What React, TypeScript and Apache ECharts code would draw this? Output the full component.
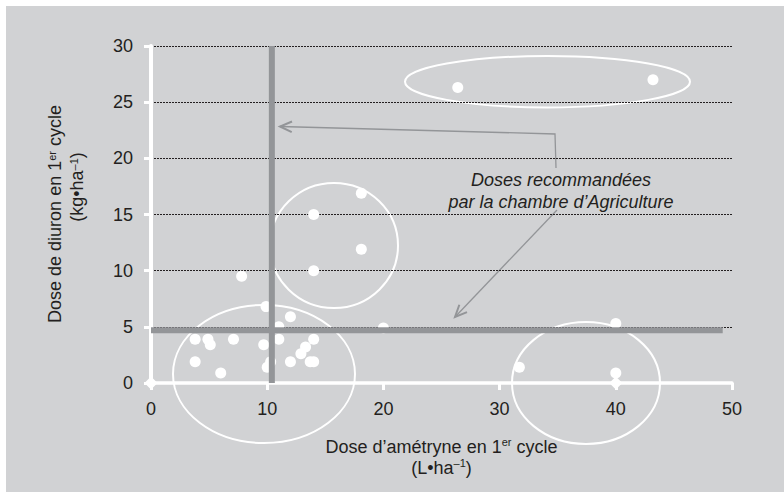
import React, { useEffect, useRef } from "react";
import * as echarts from "echarts";

// Doses per field (x: amétryne L/ha, y: diuron kg/ha)
const doseAmetryne = [3.8, 4.9, 5.1, 7.1, 9.7, 11.0, 12.0, 11.0, 9.9, 14.0, 13.3, 12.9, 13.7, 14.0, 12.0, 10.3, 10.0, 3.8, 6.0, 7.8, 14.0, 18.1, 18.1, 14.0, 20.0, 31.7, 40.0, 40.0, 26.4, 43.2];
const doseDiuron = [3.9, 3.9, 3.4, 3.9, 3.4, 3.9, 5.9, 5.0, 6.8, 3.9, 3.2, 2.6, 1.9, 1.9, 1.9, 1.9, 1.4, 1.9, 0.9, 9.5, 15.0, 16.9, 11.9, 10.0, 4.9, 1.4, 5.3, 0.9, 26.3, 27.0];
// Fields with no diuron (drawn on the axis)
const zeroAmetryne = [0, 40];
const zeroDiuron = [0, 0];
// Recommended doses (chambre d'Agriculture)
const recommendedAmetryne = 10.4;
const recommendedDiuron = 4.7;
const xTicks = [0, 10, 20, 30, 40, 50];
const yTicks = [0, 5, 10, 15, 20, 25, 30];

const FONT = '"Liberation Sans", Arial, sans-serif';
const TEXT = "#231f20";
const GRAY = "#939598";

function arrowHead(tip: number[], from: number[], len: number, ang: number) {
  const dx = from[0] - tip[0];
  const dy = from[1] - tip[1];
  const d = Math.hypot(dx, dy);
  const ux = dx / d;
  const uy = dy / d;
  const rot = (a: number) => [
    tip[0] + len * (ux * Math.cos(a) - uy * Math.sin(a)),
    tip[1] + len * (ux * Math.sin(a) + uy * Math.cos(a)),
  ];
  return [rot(ang), tip, rot(-ang)];
}

export default function App() {
  const ref = useRef<HTMLDivElement>(null);
  useEffect(() => {
    if (!ref.current) return;
    const chart = echarts.init(ref.current, undefined, { renderer: "svg" });
    const pts = doseAmetryne.map((x, i) => [x, doseDiuron[i]]);
    const zeros = zeroAmetryne.map((x, i) => [x, zeroDiuron[i]]);
    const supRich = { sup: { fontSize: 11, verticalAlign: "top", lineHeight: 13, fontFamily: FONT, color: TEXT, fill: TEXT } };

    const a1Tip = [280, 126.5];
    const a1Corner = [555, 134];
    const a2Tip = [455, 317];
    const a2From = [557, 210];

    chart.setOption({
      animation: false,
      grid: { left: 151, top: 46, right: 52, bottom: 109, containLabel: false },
      xAxis: {
        type: "value",
        min: 0,
        max: 50,
        interval: 10,
        axisLine: { show: true, onZero: false, lineStyle: { color: "#ffffff", width: 3.5 } },
        axisTick: { show: true, length: 7, lineStyle: { color: "#ffffff", width: 3 } },
        axisLabel: {
          margin: 17,
          fontSize: 18,
          fontFamily: FONT,
          color: TEXT,
          formatter: (v: number) => (xTicks.includes(v) ? String(v) : ""),
        },
        splitLine: { show: false },
        name: "Dose d\u2019amétryne en 1{sup|er} cycle\n(L•ha{sup|–1})",
        nameLocation: "middle",
        nameGap: 53,
        nameTextStyle: { fontSize: 18, fontFamily: FONT, color: TEXT, lineHeight: 21, rich: supRich },
      },
      yAxis: {
        type: "value",
        min: 0,
        max: 30,
        interval: 5,
        axisLine: { show: true, onZero: false, lineStyle: { color: "#ffffff", width: 4 } },
        axisTick: { show: true, length: 7, lineStyle: { color: "#ffffff", width: 3 } },
        axisLabel: {
          margin: 18,
          fontSize: 18,
          fontFamily: FONT,
          color: TEXT,
          formatter: (v: number) => (yTicks.includes(v) ? String(v) : ""),
        },
        splitLine: { show: true, lineStyle: { color: TEXT, width: 1, type: [2, 1] } },
      },
      series: [
        {
          type: "scatter",
          data: pts,
          symbol: "circle",
          symbolSize: 11,
          itemStyle: { color: "#ffffff", opacity: 1 },
          z: 2,
        },
        {
          type: "scatter",
          data: zeros,
          symbol: "diamond",
          symbolSize: 13,
          itemStyle: { color: "#ffffff", opacity: 1 },
          z: 2,
        },
        {
          type: "line",
          data: [
            [recommendedAmetryne, 0],
            [recommendedAmetryne, 30],
          ],
          showSymbol: false,
          symbol: "none",
          lineStyle: { color: GRAY, width: 6 },
          z: 3,
        },
        {
          type: "line",
          data: [
            [0, recommendedDiuron],
            [49.2, recommendedDiuron],
          ],
          showSymbol: false,
          symbol: "none",
          lineStyle: { color: GRAY, width: 6 },
          z: 3,
        },
      ],
      graphic: [
        // group ellipses
        { type: "ellipse", shape: { cx: 547.5, cy: 81.7, rx: 142.5, ry: 25.7 }, style: { fill: "none", stroke: "#ffffff", lineWidth: 2 } },
        { type: "ellipse", shape: { cx: 334, cy: 245.5, rx: 64, ry: 62.5 }, style: { fill: "none", stroke: "#ffffff", lineWidth: 2 } },
        { type: "ellipse", shape: { cx: 264, cy: 374, rx: 91, ry: 69 }, style: { fill: "none", stroke: "#ffffff", lineWidth: 2 } },
        { type: "ellipse", shape: { cx: 586, cy: 383, rx: 74, ry: 61 }, style: { fill: "none", stroke: "#ffffff", lineWidth: 2 } },
        // arrows
        { type: "polyline", shape: { points: [[556, 168], a1Corner, a1Tip] }, style: { fill: "none", stroke: GRAY, lineWidth: 1.3 } },
        { type: "polyline", shape: { points: arrowHead(a1Tip, a1Corner, 13, 0.42) }, style: { fill: "none", stroke: GRAY, lineWidth: 2 } },
        { type: "polyline", shape: { points: [a2From, a2Tip] }, style: { fill: "none", stroke: GRAY, lineWidth: 1.3 } },
        { type: "polyline", shape: { points: arrowHead(a2Tip, a2From, 13, 0.42) }, style: { fill: "none", stroke: GRAY, lineWidth: 2 } },
        // annotation
        {
          type: "text",
          x: 561,
          y: 191,
          style: {
            text: "Doses recommandées\npar la chambre d\u2019Agriculture",
            fontSize: 18,
            fontStyle: "italic",
            fontFamily: FONT,
            lineHeight: 21.5,
            fill: TEXT,
            align: "center",
            verticalAlign: "middle",
            textAlign: "center",
            textVerticalAlign: "middle",
          },
        },
        // y-axis title
        {
          type: "text",
          x: 55,
          y: 214,
          rotation: Math.PI / 2,
          style: {
            text: "Dose de diuron en 1{sup|er} cycle",
            fontSize: 18,
            fontFamily: FONT,
            fill: TEXT,
            align: "center",
            verticalAlign: "middle",
            textAlign: "center",
            textVerticalAlign: "middle",
            rich: supRich,
          },
        },
        {
          type: "text",
          x: 77,
          y: 187,
          rotation: Math.PI / 2,
          style: {
            text: "(kg•ha{sup|–1})",
            fontSize: 18,
            fontFamily: FONT,
            fill: TEXT,
            align: "center",
            verticalAlign: "middle",
            textAlign: "center",
            textVerticalAlign: "middle",
            rich: supRich,
          },
        },
      ],
    });
    return () => chart.dispose();
  }, []);

  return (
    <div style={{ position: "fixed", left: 0, top: 0, width: 784, height: 492, background: "#ffffff" }}>
      <div style={{ position: "absolute", left: 6, top: 6, right: 0, bottom: 0, background: "#d1d2d4" }} />
      <div ref={ref} style={{ position: "absolute", left: 0, top: 0, width: 784, height: 492 }} />
    </div>
  );
}
